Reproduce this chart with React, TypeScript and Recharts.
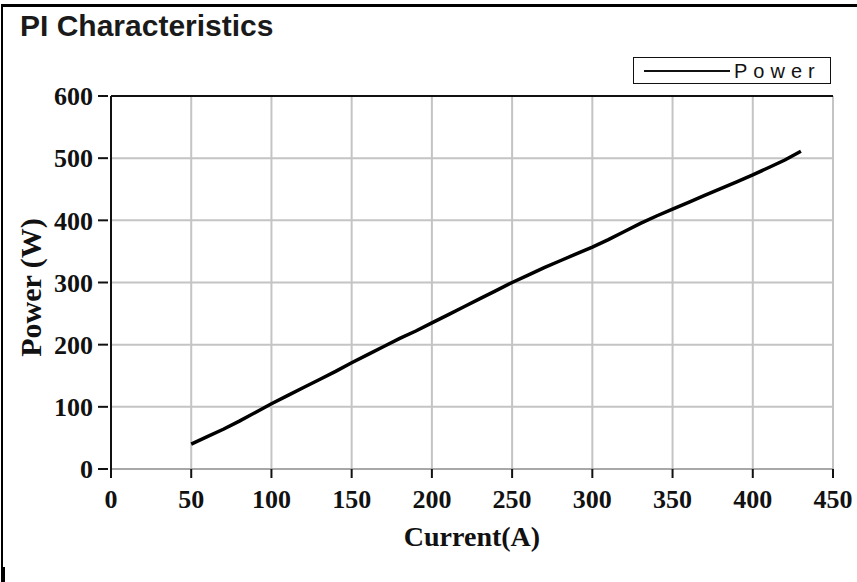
import { LineChart, Line, XAxis, YAxis, CartesianGrid, Legend, ReferenceLine } from "recharts";

// Current (A) vs Power (W)
const currentA = [
  50, 60, 70, 80, 90, 100, 110, 120, 130, 140, 150, 160, 170, 180, 190, 200, 210, 220, 230, 240,
  250, 260, 270, 280, 290, 300, 310, 320, 330, 340, 350, 360, 370, 380, 390, 400, 410, 420, 430,
];
const powerW = [
  40, 52, 64, 77, 91, 105, 118, 131, 144, 157, 171, 184, 197, 210, 222, 235, 248, 261, 274, 287,
  300, 312, 324, 335, 346, 357, 369, 382, 395, 407, 418, 429, 440, 451, 462, 473, 485, 497, 511,
];
const xTicks = [0, 50, 100, 150, 200, 250, 300, 350, 400, 450];
const yTicks = [0, 100, 200, 300, 400, 500, 600];

const data = currentA.map((c, i) => ({ current: c, power: powerW[i] }));

const serif = "'Liberation Serif', 'Times New Roman', serif";
const sans = "'Liberation Sans', Arial, sans-serif";
const tickStyle = { fontFamily: serif, fontWeight: 700, fontSize: 26, fill: "#111" };

const renderLegend = () => (
  <div
    style={{
      width: 198,
      height: 27,
      border: "1.5px solid #111",
      boxSizing: "border-box",
      display: "flex",
      alignItems: "center",
      background: "#fff",
    }}
  >
    <div style={{ width: 86, height: 2, background: "#111", marginLeft: 10 }} />
    <span
      style={{
        fontFamily: sans,
        fontSize: 20,
        letterSpacing: 6,
        color: "#111",
        marginLeft: 4,
        lineHeight: "20px",
      }}
    >
      Power
    </span>
  </div>
);

const yLabel = (props: any) => {
  const vb = props.viewBox || { y: 97, height: 372 };
  const cy = vb.y + vb.height / 2 + 5;
  return (
    <text
      x={41}
      y={cy}
      transform={`rotate(-90, 41, ${cy})`}
      textAnchor="middle"
      style={{ fontFamily: serif, fontWeight: 700, fontSize: 30, fill: "#111" }}
    >
      Power (W)
    </text>
  );
};

export default function App() {
  return (
    <div style={{ position: "absolute", left: 0, top: 0, width: 857, height: 582, background: "#fff" }}>
      {/* outer frame */}
      <div
        style={{
          position: "absolute",
          left: 1,
          top: 4,
          width: 856,
          height: 578,
          borderTop: "3px solid #000",
          borderLeft: "2px solid #000",
          boxSizing: "border-box",
        }}
      />
      <div style={{ position: "absolute", left: 1, top: 567, width: 4, height: 15, background: "#000" }} />
      <div
        style={{
          position: "absolute",
          left: 20,
          top: 9,
          fontFamily: sans,
          fontWeight: 700,
          fontSize: 30,
          color: "#1a1a1a",
        }}
      >
        PI Characteristics
      </div>
      <LineChart
        width={857}
        height={582}
        data={data}
        margin={{ top: 69, right: 24, bottom: 73, left: 51 }}
        style={{ position: "absolute", left: 0, top: 0 }}
      >
        <CartesianGrid stroke="#c4c4c4" strokeWidth={2} />
        <XAxis
          dataKey="current"
          type="number"
          domain={[0, 450]}
          ticks={xTicks}
          height={40}
          tick={tickStyle}
          tickSize={13}
          tickMargin={8}
          tickLine={{ stroke: "#111", strokeWidth: 2, strokeDasharray: "0 4 9 100" }}
          axisLine={{ stroke: "#a8a8a8", strokeWidth: 2 }}
          label={{
            value: "Current(A)",
            position: "bottom",
            offset: 17,
            style: { fontFamily: serif, fontWeight: 700, fontSize: 28, fill: "#111" },
          }}
        />
        <YAxis
          type="number"
          domain={[0, 600]}
          ticks={yTicks}
          width={60}
          tick={tickStyle}
          tickSize={13}
          tickMargin={5}
          tickLine={{ stroke: "#111", strokeWidth: 2, strokeDasharray: "10 3" }}
          axisLine={{ stroke: "#111", strokeWidth: 2 }}
          label={yLabel}
        />
        <ReferenceLine y={600} stroke="#111" strokeWidth={2} />
        <Legend
          verticalAlign="top"
          content={renderLegend}
          wrapperStyle={{ position: "absolute", left: 633, top: 57, width: 198, height: 27 }}
        />
        <Line
          dataKey="power"
          name="Power"
          type="linear"
          stroke="#000"
          strokeWidth={3.5}
          dot={false}
          isAnimationActive={false}
        />
      </LineChart>
    </div>
  );
}
